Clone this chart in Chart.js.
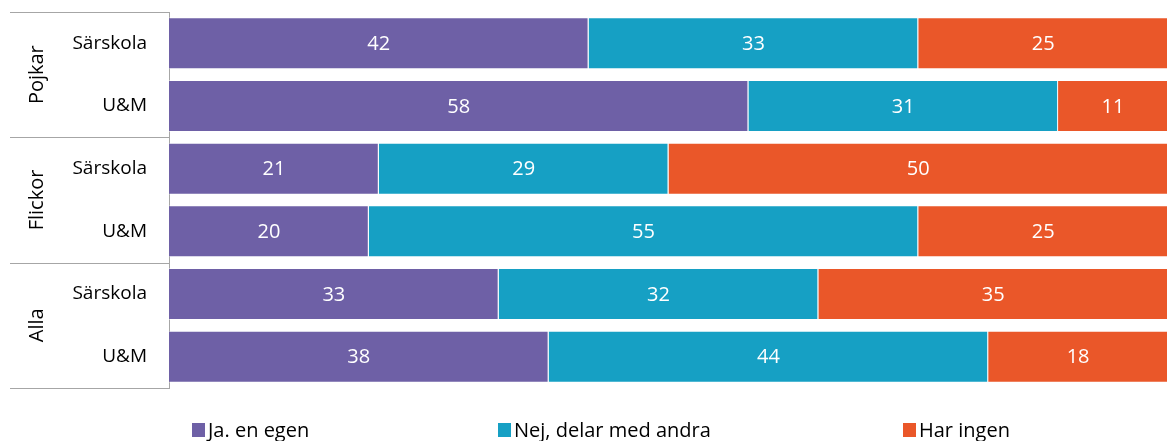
<!DOCTYPE html>
<html>
<head>
<meta charset="utf-8">
<script src="https://cdn.jsdelivr.net/npm/chart.js@4"></script>
<style>
  html, body { margin: 0; padding: 0; background: #fff; }
  #wrap { width: 1170px; height: 441px; }
</style>
</head>
<body>
<div id="wrap"><canvas id="c" width="1170" height="441"></canvas></div>
<script>
const categories = ['Särskola', 'U&M', 'Särskola', 'U&M', 'Särskola', 'U&M']
const groups = ['Pojkar', 'Flickor', 'Alla']
const seriesNames = ['Ja. en egen', 'Nej, delar med andra', 'Har ingen']
const jaEgen = [42, 58, 21, 20, 33, 38]
const nejDelar = [33, 31, 29, 55, 32, 44]
const harIngen = [25, 11, 50, 25, 35, 18]
const colors = ['rgb(110, 96, 166)', 'rgb(22, 160, 196)', 'rgb(234, 87, 41)']

const font = "'Open Sans', 'DejaVu Sans', sans-serif"
const lineColor = '#a6a6a6'

// value labels in the middle of each segment
const barLabels = {
  id: 'barLabels',
  afterDatasetsDraw(chart) {
    const ctx = chart.ctx
    ctx.save()
    ctx.fillStyle = '#fff'
    ctx.font = '20px ' + font
    ctx.textAlign = 'center'
    ctx.textBaseline = 'middle'
    chart.data.datasets.forEach((ds, i) => {
      chart.getDatasetMeta(i).data.forEach((bar, j) => {
        const x = (bar.x + bar.base) / 2
        ctx.fillText(ds.data[j], x, bar.y + 1)
      })
    })
    ctx.restore()
  }
}

// group labels, separator lines and legend
const groupAxis = {
  id: 'groupAxis',
  afterDraw(chart) {
    const ctx = chart.ctx
    const y = chart.scales.y
    const area = chart.chartArea
    const step = (area.bottom - area.top) / categories.length
    ctx.save()
    ctx.strokeStyle = lineColor
    ctx.lineWidth = 1
    for (let g = 0; g <= groups.length; g++) {
      const yy = Math.round(area.top + g * 2 * step) + 0.5
      ctx.beginPath()
      ctx.moveTo(10, yy)
      ctx.lineTo(area.left, yy)
      ctx.stroke()
    }
    ctx.fillStyle = '#000'
    ctx.font = '20px ' + font
    ctx.textAlign = 'center'
    ctx.textBaseline = 'middle'
    groups.forEach((name, g) => {
      const cy = (y.getPixelForValue(g * 2) + y.getPixelForValue(g * 2 + 1)) / 2
      ctx.save()
      ctx.translate(37, cy)
      ctx.rotate(-Math.PI / 2)
      ctx.fillText(name, 0, 0)
      ctx.restore()
    })

    // legend
    const legendX = [192, 498, 903]
    ctx.font = "20px 'Liberation Sans Narrow', 'Open Sans', sans-serif"
    ctx.textAlign = 'left'
    chart.data.datasets.forEach((ds, i) => {
      ctx.fillStyle = ds.backgroundColor
      ctx.fillRect(legendX[i], 423, 13, 14)
      ctx.fillStyle = '#000'
      ctx.fillText(ds.label, legendX[i] + 16, 431)
    })
    ctx.restore()
  }
}

new Chart(document.getElementById('c'), {
  type: 'bar',
  data: {
    labels: categories,
    datasets: [
      { label: seriesNames[0], data: jaEgen, backgroundColor: colors[0] },
      { label: seriesNames[1], data: nejDelar, backgroundColor: colors[1] },
      { label: seriesNames[2], data: harIngen, backgroundColor: colors[2] },
    ].map(d => ({ ...d, borderColor: 'rgba(255,255,255,0.45)', borderWidth: 1, categoryPercentage: 1, barPercentage: 0.83 })),
  },
  options: {
    indexAxis: 'y',
    responsive: false,
    animation: false,
    layout: { padding: { left: 0, right: 2, top: 12, bottom: 53 } },
    plugins: {
      legend: { display: false },
      tooltip: { enabled: false },
    },
    scales: {
      x: { stacked: true, min: 0, max: 100, display: false },
      y: {
        stacked: true,
        afterFit(scale) {
          scale.width = 169
          scale.paddingTop = 0
          scale.paddingBottom = 0
        },
        grid: { display: false, drawTicks: false },
        border: { display: true, color: lineColor },
        ticks: { color: '#000', padding: 22, font: { family: font, size: 19 } },
      },
    },
  },
  plugins: [barLabels, groupAxis],
})
</script>
</body>
</html>
